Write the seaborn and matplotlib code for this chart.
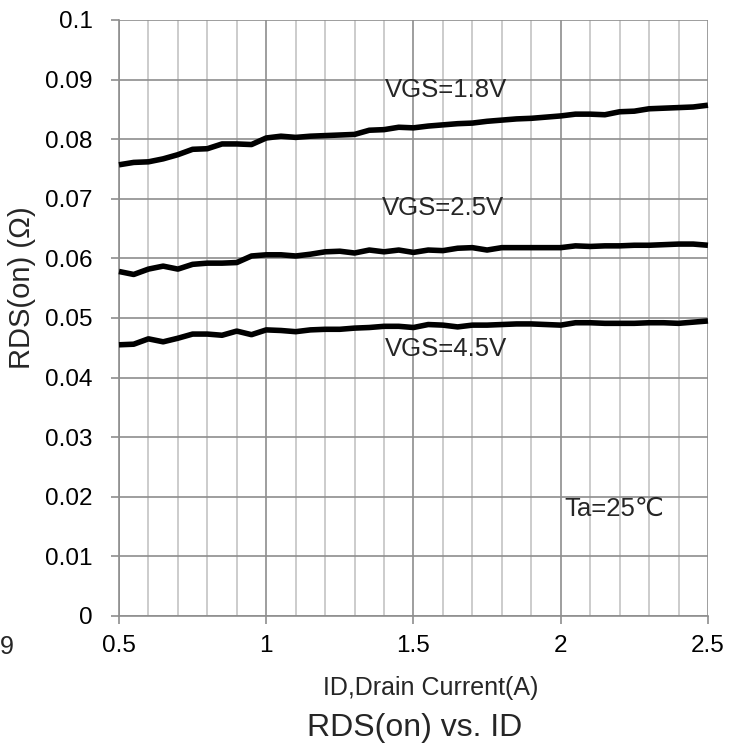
import numpy as np
import pandas as pd
import matplotlib
matplotlib.use('Agg')
import matplotlib.pyplot as plt
import seaborn as sns
from matplotlib.ticker import MultipleLocator, FuncFormatter

# drain current (A)
id_current = [0.50, 0.55, 0.60, 0.65, 0.70, 0.75, 0.80, 0.85, 0.90, 0.95,
              1.00, 1.05, 1.10, 1.15, 1.20, 1.25, 1.30, 1.35, 1.40, 1.45,
              1.50, 1.55, 1.60, 1.65, 1.70, 1.75, 1.80, 1.85, 1.90, 1.95,
              2.00, 2.05, 2.10, 2.15, 2.20, 2.25, 2.30, 2.35, 2.40, 2.45, 2.50]

rds_vgs18 = [0.0757, 0.0761, 0.0762, 0.0767, 0.0774, 0.0783, 0.0784, 0.0792, 0.0792, 0.0791,
             0.0802, 0.0805, 0.0803, 0.0805, 0.0806, 0.0807, 0.0808, 0.0815, 0.0816, 0.0820,
             0.0819, 0.0822, 0.0824, 0.0826, 0.0827, 0.0830, 0.0832, 0.0834, 0.0835, 0.0837,
             0.0839, 0.0842, 0.0842, 0.0841, 0.0846, 0.0847, 0.0851, 0.0852, 0.0853, 0.0854, 0.0857]

rds_vgs25 = [0.0578, 0.0573, 0.0582, 0.0587, 0.0582, 0.0590, 0.0592, 0.0592, 0.0593, 0.0604,
             0.0606, 0.0606, 0.0604, 0.0607, 0.0611, 0.0612, 0.0609, 0.0614, 0.0611, 0.0614,
             0.0610, 0.0614, 0.0613, 0.0617, 0.0618, 0.0614, 0.0618, 0.0618, 0.0618, 0.0618,
             0.0618, 0.0621, 0.0620, 0.0621, 0.0621, 0.0622, 0.0622, 0.0623, 0.0624, 0.0624, 0.0622]

rds_vgs45 = [0.0455, 0.0456, 0.0465, 0.0460, 0.0466, 0.0473, 0.0473, 0.0471, 0.0478, 0.0472,
             0.0480, 0.0479, 0.0477, 0.0480, 0.0481, 0.0481, 0.0483, 0.0484, 0.0486, 0.0486,
             0.0484, 0.0489, 0.0488, 0.0485, 0.0488, 0.0488, 0.0489, 0.0490, 0.0490, 0.0489,
             0.0488, 0.0492, 0.0492, 0.0491, 0.0491, 0.0491, 0.0492, 0.0492, 0.0491, 0.0493, 0.0495]

series_labels = ['VGS=1.8V', 'VGS=2.5V', 'VGS=4.5V']

sns.set_style('white')
plt.rcParams['font.family'] = ['Liberation Sans', 'DejaVu Sans']

fig = plt.figure(figsize=(7.39, 7.51), dpi=100)
ax = fig.add_axes([0.161, 0.1798, 0.797, 0.7936])

for vals in [rds_vgs18, rds_vgs25, rds_vgs45]:
    sns.lineplot(x=id_current, y=vals, color='black', linewidth=4.0,
                 ax=ax, clip_on=False, zorder=5)
for line in ax.lines:
    line.set_solid_capstyle('butt')

ax.set_xlim(0.5, 2.5)
ax.set_ylim(0, 0.1)
ax.xaxis.set_major_locator(MultipleLocator(0.5))
ax.xaxis.set_minor_locator(MultipleLocator(0.1))
ax.yaxis.set_major_locator(MultipleLocator(0.01))
fmt = FuncFormatter(lambda v, p: '%g' % round(v, 3))
ax.xaxis.set_major_formatter(fmt)
ax.yaxis.set_major_formatter(fmt)

ax.grid(which='minor', axis='x', color='#c4c4c4', linewidth=1.2)
ax.grid(which='major', axis='both', color='#8e8e8e', linewidth=1.2)
ax.set_axisbelow(True)
for s in ax.spines.values():
    s.set_visible(False)
for side in ['left', 'bottom']:
    ax.spines[side].set_visible(True)
    ax.spines[side].set_color('#8e8e8e')
    ax.spines[side].set_linewidth(1.2)

ax.tick_params(which='major', axis='both', direction='out', length=6, width=1.2,
               color='#8e8e8e', labelsize=17.5, labelcolor='black')
ax.tick_params(which='major', axis='y', left=True, pad=13)
ax.tick_params(which='major', axis='x', bottom=True, pad=8)
ax.tick_params(which='minor', length=0)

ax.set_xlabel('ID,Drain Current(A)', fontsize=18)
ax.xaxis.set_label_coords(0.529, -0.121)
ax.xaxis.label.set_va('center')
ax.set_ylabel('RDS(on) (Ω)', fontsize=21)
ax.yaxis.set_label_coords(-0.165, 0.55)
ax.yaxis.label.set_va('center')

ax.text(1.403, 0.0883, series_labels[0], fontsize=18.5, va='center')
ax.text(1.393, 0.0685, series_labels[1], fontsize=18.5, va='center')
ax.text(1.403, 0.0448, series_labels[2], fontsize=18.5, va='center')
ax.text(2.014, 0.0180, 'Ta=25℃', fontsize=18.5, va='center',
        family=['Liberation Sans', 'DejaVu Sans', 'Noto Sans CJK SC'])

fig.text(0.561, 1 - 728 / 751, 'RDS(on) vs. ID', fontsize=23, ha='center', va='center')
fig.text(0.0, 1 - 647 / 751, '9', fontsize=18, ha='left', va='center')

fig.savefig('out.png', dpi=100)
